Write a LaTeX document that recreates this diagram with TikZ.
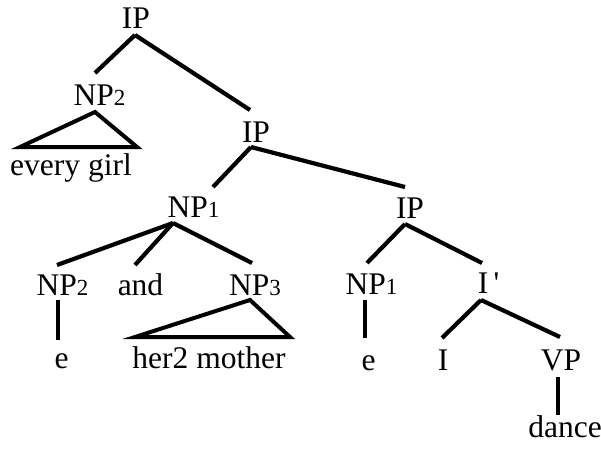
\documentclass[tikz,border=0pt]{standalone}
\usepackage{fontspec}
\setmainfont{Liberation Serif}
\usetikzlibrary{calc}
\newcommand{\sbn}[1]{{\fontsize{23}{23}\selectfont #1}}
\tikzset{
  lab/.style={anchor=base, inner sep=0pt, font=\fontsize{31.5}{36}\selectfont},
  br/.style={line width=4.2pt, line cap=butt},
  tri/.style={line width=4pt, line join=miter}
}
\begin{document}
\begin{tikzpicture}[x=1pt,y=-1pt]
\fill[white] (0,0) rectangle (601,451);
\useasboundingbox (0,0) rectangle (601,451);
% nodes
\node[lab] (ipA) at (136,28) {IP};
\node[lab] (np2A) at (99.5,105) {NP\sbn{2}};
\node[lab] (every) at (71,175) {every girl};
\node[lab] (ipB) at (256,142) {IP};
\node[lab] (np1A) at (193.5,217) {NP\sbn{1}};
\node[lab] (ipC) at (410,218) {IP};
\node[lab] (np2B) at (62.5,295) {NP\sbn{2}};
\node[lab] (and) at (140.5,295) {and};
\node[lab] (np3) at (255,295) {NP\sbn{3}};
\node[lab] (np1B) at (371.5,294) {NP\sbn{1}};
\node[lab] (ibar) at (488.5,293) {I\,\textquotesingle};
\node[lab] (e1) at (61.5,368) {e};
\node[lab] (hm) at (209,368) {her2 mother};
\node[lab] (e2) at (368.5,370) {e};
\node[lab] (infl) at (443,370) {I};
\node[lab] (vp) at (561,370) {VP};
\node[lab] (dance) at (565,437) {dance};
% branches
\draw[br] ($(ipA.base)+(-1,7)$) -- ($(np2A.base)+(-4.5,-32)$);
\draw[br] ($(ipA.base)+(-1,7)$) -- ($(ipB.base)+(-6,-32)$);
\draw[br] ($(ipB.base)+(-5,5)$) -- ($(np1A.base)+(19.5,-30)$);
\draw[br] ($(ipB.base)+(-5,5)$) -- ($(ipC.base)+(-5,-31)$);
\draw[br] ($(np1A.base)+(-20.5,6)$) -- ($(np2B.base)+(-5.5,-30)$);
\draw[br] ($(np1A.base)+(-20.5,6)$) -- ($(and.base)+(-5.5,-30)$);
\draw[br] ($(np1A.base)+(-20.5,6)$) -- ($(np3.base)+(-3,-32)$);
\draw[br] ($(np2B.base)+(-4.5,5)$) -- ($(e1.base)+(-3.5,-28)$);
\draw[br] ($(ipC.base)+(-5,6)$) -- ($(np1B.base)+(-4.5,-31)$);
\draw[br] ($(ipC.base)+(-5,6)$) -- ($(ibar.base)+(-6.5,-30)$);
\draw[br] ($(np1B.base)+(-6.5,6)$) -- ($(e2.base)+(-3.5,-32)$);
\draw[br] ($(ibar.base)+(-7.5,7)$) -- ($(infl.base)+(-1,-32)$);
\draw[br] ($(ibar.base)+(-7.5,7)$) -- ($(vp.base)+(-1,-33)$);
\draw[br] ($(vp.base)+(-3,7)$) -- ($(dance.base)+(-7,-22)$);
% triangles
\draw[tri] ($(np2A.base)+(-4.5,7)$) -- ($(every.base)+(-51,-28)$) -- ($(every.base)+(66,-28)$) -- cycle;
\draw[tri] ($(np3.base)+(-5,5)$) -- ($(hm.base)+(-74,-31)$) -- ($(hm.base)+(81,-31)$) -- cycle;
\end{tikzpicture}
\end{document}
